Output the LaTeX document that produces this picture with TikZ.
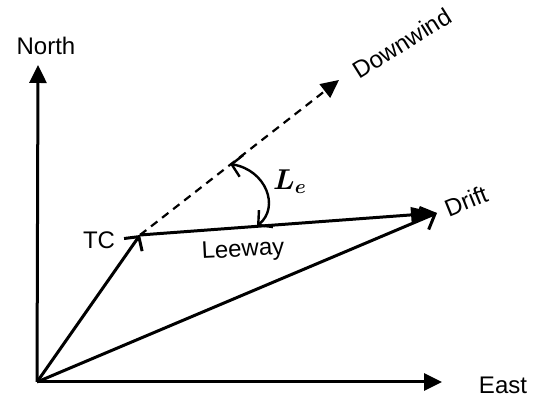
\documentclass[tikz,border=0pt]{standalone}
\usepackage{fontspec}
\setmainfont{Liberation Sans}
\usetikzlibrary{arrows.meta}

\begin{document}
\begin{tikzpicture}[x=0.5bp, y=-0.5bp, line width=1.5bp,
    >={Triangle[length=9bp,width=8.5bp]},
    vtip/.tip={Straight Barb[length=5bp,width=11bp]},
    lbl/.style={font=\fontsize{12bp}{14bp}\selectfont, inner sep=0pt}]
  \useasboundingbox (0,0) rectangle (533,400);
  % --- points ---
  \coordinate (O) at (37,382);
  \coordinate (N) at (38,65);
  \coordinate (E) at (442,382);
  \coordinate (TC) at (140,235);
  \coordinate (D) at (437,213);
  \coordinate (W) at (339,80);
  \coordinate (a1) at (230,164);
  \coordinate (a2) at (257,226);

  % --- axes ---
  \draw[->] (O) -- (N);
  \draw[->] (O) -- (E);
  \node[lbl] (north) at (46,46) {North};
  \node[lbl] (east) at (503,385) {East};

  % --- vectors ---
  \draw[-vtip] (O) -- (TC);
  \draw[-{Straight Barb[length=6bp,width=12bp]}] (O) -- (D);
  \draw[-{Triangle[length=13bp,width=7.5bp]}] (TC) -- (D);
  \draw[->, line width=1.1bp, dash pattern=on 4bp off 3bp] (TC) -- (W);
  \node[lbl] (tc) at (99,240) {TC};
  \node[lbl, rotate=3] (leeway) at (243,251) {Leeway};
  \node[lbl, rotate=22] (drift) at (466,201) {Drift};
  \node[lbl, rotate=32] (downwind) at (402,43) {Downwind};

  % --- angle L_e ---
  \draw[vtip-vtip, line width=1.2bp] (a1) .. controls (266,170) and (280,207) .. (a2);
  \node[font=\fontsize{14bp}{16bp}\selectfont\boldmath, inner sep=0pt] (le) at (290,182) {$L_e$};
\end{tikzpicture}
\end{document}
